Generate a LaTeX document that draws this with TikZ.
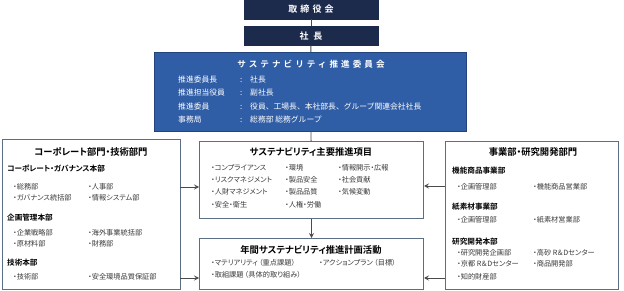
\documentclass[tikz,border=0pt]{standalone}
\usepackage{fontspec}
\setmainfont{Noto Sans CJK JP}[BoldFont={* Bold}, RawFeature=+palt]
\newfontfamily\jpwide{Noto Sans CJK JP}[BoldFont={* Bold}, LetterSpace=35]
\newfontfamily\jpfull{Noto Sans CJK JP}[BoldFont={* Bold}]
\usetikzlibrary{arrows.meta}

\definecolor{navy}{HTML}{1C2A4C}
\definecolor{comblue}{HTML}{2F5DA6}
\definecolor{comline}{HTML}{22437C}
\definecolor{boxline}{HTML}{5B6F84}
\definecolor{linegray}{HTML}{4A4A4A}
\definecolor{itemgray}{HTML}{3A3A3A}

\tikzset{
  topbox/.style={fill=navy, draw=navy, text=white, inner sep=0pt,
    minimum width=134pt, minimum height=19pt,
    font=\jpwide\bfseries\fontsize{9}{10}\selectfont},
  combox/.style={fill=comblue, draw=comline, line width=1pt, anchor=north west, inner sep=0pt},
  unitbox/.style={fill=white, draw=boxline, line width=1pt, anchor=north west, inner sep=0pt},
  boxtitle/.style={inner sep=0pt, font=\bfseries\fontsize{9.3}{10}\selectfont},
  head/.style={anchor=west, inner sep=0pt, font=\bfseries\fontsize{7.6}{8}\selectfont},
  item/.style={anchor=west, inner sep=0pt, text=itemgray, font=\fontsize{7.2}{8}\selectfont},
  comtext/.style={anchor=west, inner sep=0pt, text=white, font=\jpfull\fontsize{7.8}{8}\selectfont},
  conn/.style={draw=linegray, line width=0.9pt},
  arr/.style={conn, -{Stealth[length=5pt, width=5pt, inset=2pt]}},
}

\begin{document}
\begin{tikzpicture}[x=1pt, y=-1pt]
\useasboundingbox (0,0) rectangle (624,291);

% board and president
\node[topbox] (board) at (311,9.5) {取締役会};
\node[topbox] (ceo) at (311,36) {社\hspace{5pt}長};

% committee
\node[combox, minimum width=312pt, minimum height=79pt] (committee) at (154,52) {};
\node[boxtitle, text=white, font=\jpwide\bfseries\fontsize{8.6}{10}\selectfont] (comT) at (311,64) {サステナビリティ推進委員会};
\foreach \lab/\val/\y [count=\i] in {推進委員長/社長/80, 推進担当役員/副社長/93,
    推進委員/役員、工場長、本社部長、グループ関連会社社長/107, 事務局/総務部\ 総務グループ/120} {
  \node[comtext] (comL\i) at (178,\y) {\lab};
  \node[comtext] (comC\i) at (240,\y) {:};
  \node[comtext] (comV\i) at (250,\y) {\val};
}

% the four unit boxes
\node[unitbox, minimum width=178pt, minimum height=150pt] (corp) at (2,139) {};
\node[unitbox, minimum width=224pt, minimum height=77pt] (items) at (199,141) {};
\node[unitbox, minimum width=224pt, minimum height=51pt] (plan) at (199,238) {};
\node[unitbox, minimum width=173pt, minimum height=148pt] (biz) at (445,141) {};

% corporate / technology
\node[boxtitle] (corpT) at (91,152) {コーポレート部門・技術部門};
\node[head] (corpH1) at (7,169) {コーポレート・ガバナンス本部};
\node[head] (corpH2) at (7,218) {企画管理本部};
\node[head] (corpH3) at (7,263) {技術本部};
\foreach \t/\x/\y [count=\i] in {・総務部/13/187, ・人事部/88/187, ・ガバナンス統括部/13/198,
    ・情報システム部/88/198, ・企業戦略部/13/233, ・海外事業統括部/88/233, ・原材料部/13/244,
    ・財務部/88/244, ・技術部/13/277, ・安全環境品質保証部/88/277}
  \node[item] (corp\i) at (\x,\y) {\t};

% main promotion items
\node[boxtitle] (itemsT) at (311,152) {サステナビリティ主要推進項目};
\foreach \t/\x/\y [count=\i] in {・コンプライアンス/211/168, ・リスクマネジメント/211/180,
    ・人財マネジメント/211/192, ・安全・衛生/211/205, ・環境/285/168, ・製品安全/285/180,
    ・製品品質/285/192, ・人権・労働/285/205, ・情報開示・広報/338/168, ・社会貢献/338/180,
    ・気候変動/338/192}
  \node[item] (item\i) at (\x,\y) {\t};

% yearly plan
\node[boxtitle] (planT) at (311,250) {年間サステナビリティ推進計画活動};
\node[item] (plan1) at (211,263) {・マテリアリティ\,（重点課題）};
\node[item] (plan2) at (319,263) {・アクションプラン\,（目標）};
\node[item] (plan3) at (211,275) {・取組課題\,（具体的取り組み）};

% business / R&D
\node[boxtitle] (bizT) at (533,152) {事業部・研究開発部門};
\node[head] (bizH1) at (452,171) {機能商品事業部};
\node[head] (bizH2) at (452,207) {紙素材事業部};
\node[head] (bizH3) at (452,242) {研究開発本部};
\foreach \t/\x/\y [count=\i] in {・企画管理部/457/187, ・機能商品営業部/533/187, ・企画管理部/457/220,
    ・紙素材営業部/533/220, ・研究開発企画部/457/253, ・高砂 R＆Dセンター/533/253,
    ・京都 R＆Dセンター/457/264, ・商品開発部/533/264, ・知的財産部/457/277}
  \node[item] (biz\i) at (\x,\y) {\t};

% connectors
\draw[conn] (board) -- (ceo);
\draw[conn] (ceo) -- (committee);
\draw[conn] (committee) -- (items);
\draw[arr] (items) -- (plan);
\coordinate (cl1) at (180,187);
\coordinate (cl2) at (180,278);
\coordinate (cr1) at (445,186);
\coordinate (cr2) at (445,278);
\draw[arr] (cl1) -- (cl1 -| items.west);
\draw[arr] (cl2) -- (cl2 -| plan.west);
\draw[arr] (cr1) -- (cr1 -| items.east);
\draw[arr] (cr2) -- (cr2 -| plan.east);
\end{tikzpicture}
\end{document}
